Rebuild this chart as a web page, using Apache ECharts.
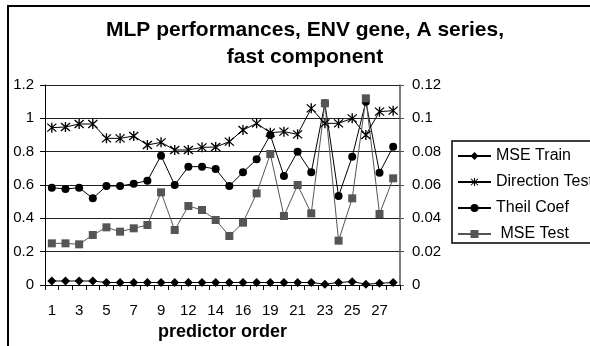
<!DOCTYPE html>
<html>
<head>
<meta charset="utf-8">
<script src="https://cdn.jsdelivr.net/npm/echarts@6/dist/echarts.min.js"></script>
<style>html,body{margin:0;padding:0;background:#fff}#c{width:590px;height:346px}</style>
</head>
<body>
<div id="c"></div>
<script>
var categories = ['1','2','3','4','5','6','7','8','9','10','12','13','14','15','16','18','19','20','21','22','23','24','25','26','27','28'];
var leftTicks = [0, 0.2, 0.4, 0.6, 0.8, 1, 1.2];
var rightTicks = [0, 0.02, 0.04, 0.06, 0.08, 0.1, 0.12];
var mseTrain = [0.0024,0.0024,0.0024,0.0024,0.0015,0.0015,0.0015,0.0015,0.0015,0.0015,0.0015,0.0015,0.0015,0.0015,0.0015,0.0015,0.0015,0.0015,0.0015,0.0015,0.0005,0.0015,0.002,0.0005,0.001,0.0015];
var directionTest = [0.944,0.948,0.966,0.966,0.88,0.88,0.894,0.84,0.856,0.81,0.81,0.826,0.828,0.86,0.93,0.97,0.914,0.92,0.904,1.06,0.97,0.97,1.0,0.90,1.04,1.046];
var theilCoef = [0.584,0.576,0.584,0.52,0.594,0.594,0.608,0.626,0.776,0.60,0.71,0.71,0.696,0.594,0.676,0.754,0.90,0.654,0.80,0.676,1.09,0.534,0.77,1.10,0.674,0.83];
var mseTest = [0.025,0.025,0.0244,0.030,0.0346,0.032,0.034,0.036,0.0556,0.033,0.0474,0.045,0.039,0.0294,0.0374,0.055,0.0786,0.0414,0.060,0.043,0.109,0.0266,0.052,0.112,0.0426,0.064];

var FONT = 'Liberation Sans, Arial, sans-serif';
var starPath = 'path://M-0.6,-5 L0.6,-5 L0.6,5 L-0.6,5 Z M-4.4,-3.6 L-3.6,-4.4 L4.4,3.6 L3.6,4.4 Z M3.6,-4.4 L4.4,-3.6 L-3.6,4.4 L-4.4,3.6 Z';

var chart = echarts.init(document.getElementById('c'), null, {renderer: 'canvas'});
chart.setOption({
  backgroundColor: '#fff',
  animation: false,
  title: {
    text: 'MLP performances, ENV gene, A series,\nfast component',
    left: 300, top: 12, textAlign: 'center',
    textStyle: {fontFamily: FONT, fontSize: 21, fontWeight: 'bold', color: '#000', lineHeight: 27}
  },
  graphic: [
    {type: 'rect', shape: {x: 8, y: 6, width: 700, height: 500}, style: {fill: 'none', stroke: '#000', lineWidth: 2}, silent: true},
    {type: 'rect', shape: {x: 452, y: 141, width: 300, height: 102}, style: {fill: 'none', stroke: '#000', lineWidth: 1.5}, silent: true}
  ],
  legend: {
    orient: 'vertical', left: 457, top: 148, padding: 0, itemWidth: 33, itemHeight: 10, itemGap: 10,
    textStyle: {fontFamily: FONT, fontSize: 16, color: '#000', lineHeight: 15},
    formatter: function (n) { return n === 'MSE Test' ? ' MSE Test' : n; },
    data: ['MSE Train', 'Direction Test', 'Theil Coef', 'MSE Test']
  },
  grid: {left: 45, right: 190, top: 85, bottom: 61},
  xAxis: {
    type: 'category', data: categories, boundaryGap: true,
    name: 'predictor order', nameLocation: 'middle', nameGap: 38,
    nameTextStyle: {fontFamily: FONT, fontSize: 18, fontWeight: 'bold', color: '#000'},
    axisLine: {lineStyle: {color: '#000', width: 1}},
    axisTick: {show: true, interval: 0, length: 5, lineStyle: {color: '#000'}},
    axisLabel: {interval: 1, fontFamily: FONT, fontSize: 15, color: '#000', margin: 18},
    splitLine: {show: false}
  },
  yAxis: [
    {
      type: 'value', min: leftTicks[0], max: leftTicks[leftTicks.length - 1], interval: 0.2,
      axisLine: {show: true, lineStyle: {color: '#000', width: 1}},
      axisTick: {show: true, length: 5, lineStyle: {color: '#000'}},
      axisLabel: {fontFamily: FONT, fontSize: 15, color: '#000', margin: 11,
        formatter: function (v) { return String(+v.toFixed(1)); }},
      splitLine: {show: true, lineStyle: {color: '#222', width: 1}}
    },
    {
      type: 'value', min: rightTicks[0], max: rightTicks[rightTicks.length - 1], interval: 0.02,
      position: 'right',
      axisLine: {show: true, lineStyle: {color: '#555', width: 1.5}},
      axisTick: {show: true, length: 4, lineStyle: {color: '#555'}},
      axisLabel: {fontFamily: FONT, fontSize: 15, color: '#000', margin: 12,
        formatter: function (v) { return String(+v.toFixed(2)); }},
      splitLine: {show: false}
    }
  ],
  series: [
    {name: 'MSE Train', type: 'line', yAxisIndex: 1, data: mseTrain, symbol: 'diamond', symbolSize: 9, showAllSymbol: true,
      itemStyle: {color: '#000'}, lineStyle: {color: '#000', width: 1}},
    {name: 'Direction Test', type: 'line', yAxisIndex: 0, data: directionTest, symbol: starPath, symbolSize: 10, showAllSymbol: true,
      itemStyle: {color: '#000'}, lineStyle: {color: '#000', width: 1}},
    {name: 'Theil Coef', type: 'line', yAxisIndex: 0, data: theilCoef, symbol: 'circle', symbolSize: 8, showAllSymbol: true,
      itemStyle: {color: '#000'}, lineStyle: {color: '#000', width: 1}},
    {name: 'MSE Test', type: 'line', yAxisIndex: 1, data: mseTest, symbol: 'rect', symbolSize: 8, showAllSymbol: true,
      itemStyle: {color: '#555'}, lineStyle: {color: '#555', width: 1}}
  ]
});
</script>
</body>
</html>
